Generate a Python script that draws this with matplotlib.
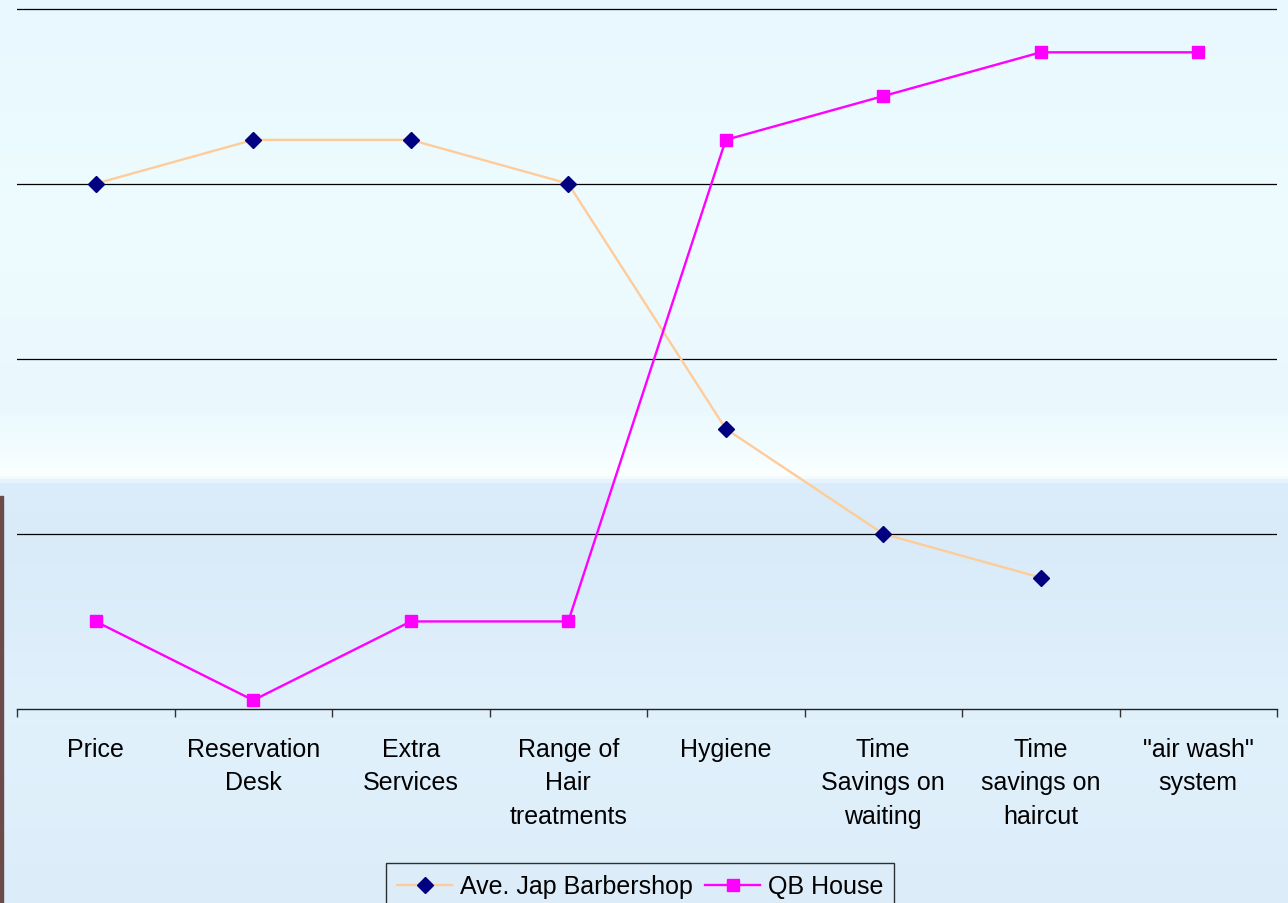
import matplotlib
matplotlib.use("Agg")
import matplotlib.pyplot as plt
import numpy as np
from matplotlib.colors import LinearSegmentedColormap

plt.rcParams['font.family'] = ['Liberation Sans', 'DejaVu Sans']

categories = ["Price", "Reservation\nDesk", "Extra\nServices", "Range of\nHair\ntreatments",
              "Hygiene", "Time\nSavings on\nwaiting", "Time\nsavings on\nhaircut", "\"air wash\"\nsystem"]
barbershop = [3.0, 3.25, 3.25, 3.0, 1.6, 1.0, 0.75, np.nan]
qb_house = [0.5, 0.05, 0.5, 0.5, 3.25, 3.5, 3.75, 3.75]

fig = plt.figure(figsize=(12.88, 9.04), dpi=100)

# background: sky / sea gradient
bg = fig.add_axes([0, 0, 1, 1], zorder=-10)
stops = [(0.0, '#e8f8fe'), (0.25, '#eefcff'), (0.45, '#eaf8fe'), (0.50, '#f3fdff'),
         (0.527, '#fbffff'), (0.537, '#dbedfb'), (0.60, '#d9ebf9'), (0.80, '#e1f1fc'),
         (1.0, '#dcedf9')]
cmap = LinearSegmentedColormap.from_list('sky', stops)
grad = np.linspace(0, 1, 904).reshape(-1, 1)
bg.imshow(grad, aspect='auto', cmap=cmap, extent=[0, 1, 1, 0])
bg.add_patch(plt.Rectangle((0, 0), 0.002, 0.45, color='#6b4a4a', transform=bg.transAxes))
bg.set_xlim(0, 1)
bg.set_ylim(1, 0)
bg.axis('off')

ax = fig.add_axes([17 / 1288, 1 - 710 / 904, 1260 / 1288, 701 / 904])
ax.patch.set_alpha(0)

x = np.arange(len(categories))
ax.plot(x, barbershop, color='#ffcc99', lw=1.7, marker='D', ms=8.6,
        mfc='#000080', mec='#000080', label='Ave. Jap Barbershop', zorder=3)
ax.plot(x, qb_house, color='#ff00ff', lw=1.7, marker='s', ms=8.5,
        mfc='#ff00ff', mec='#ff00ff', label='QB House', zorder=3)

ax.set_xlim(-0.5, len(categories) - 0.5)
ax.set_ylim(0, 4.003)
ax.set_yticks([1, 2, 3, 4])
ax.yaxis.grid(True, color='black', lw=0.9)
ax.tick_params(axis='y', length=0, labelleft=False)

ax.set_xticks(np.arange(-0.5, len(categories), 1))
ax.set_xticklabels([])
ax.set_xticks(x, minor=True)
ax.set_xticklabels(categories, minor=True, fontsize=18, linespacing=1.5)
ax.tick_params(axis='x', which='major', length=6, width=1, color='#333333', direction='out')
ax.tick_params(axis='x', which='minor', length=0, pad=20)

for s in ['top', 'left', 'right']:
    ax.spines[s].set_visible(False)
ax.spines['bottom'].set_color('#222222')
ax.spines['bottom'].set_linewidth(1)

leg = fig.legend(loc='upper center', bbox_to_anchor=(640 / 1288, 1 - 864 / 904), ncol=2,
                 fontsize=18, frameon=True, fancybox=False, handlelength=2.2,
                 handletextpad=0.3, columnspacing=0.5, borderpad=0.45, borderaxespad=0)
leg.get_frame().set_edgecolor('black')
leg.get_frame().set_facecolor('none')
leg.get_frame().set_linewidth(1)

fig.savefig('out.png', dpi=100)
